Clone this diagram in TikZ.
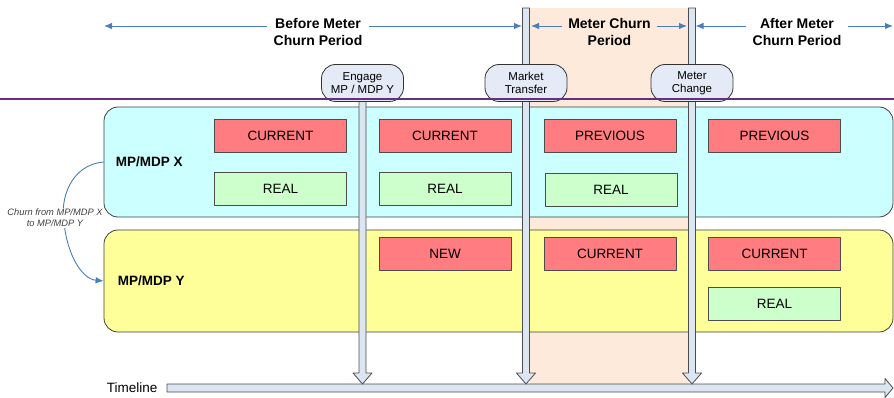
\documentclass[tikz,border=0pt]{standalone}
\usepackage{fontspec}
\setmainfont{Liberation Sans}
\usetikzlibrary{arrows.meta,calc,positioning}

\definecolor{rowcyan}{HTML}{CCFFFF}
\definecolor{rowyellow}{HTML}{FFFF99}
\definecolor{cellred}{HTML}{FF7C80}
\definecolor{cellgreen}{HTML}{CCFFCC}
\definecolor{churnzone}{HTML}{FDEADA}
\definecolor{barblue}{HTML}{DCE6F2}
\definecolor{eventblue}{HTML}{E4EBF6}
\definecolor{spanblue}{HTML}{4A7EBB}
\definecolor{rulepurple}{RGB}{102,48,126}

% hollow block arrow pointing down, #1 top, #2 tip
\newcommand{\eventbar}[2]{%
    \filldraw[barfill]($(#1)+(-3.5,0)$)--($(#2)+(-3.5,-11)$)--($(#2)+(-9.5,-11)$)
                       --(#2)--($(#2)+(9.5,-11)$)--($(#2)+(3.5,-11)$)
                       --($(#1)+(3.5,0)$)--cycle;}

\begin{document}
\begin{tikzpicture}[x=1pt,y=-1pt,join=round]
    \tikzstyle{rowbox} = [draw=black!75,line width=.8pt,rounded corners=14pt,
                          minimum width=789pt,minimum height=110pt]
    \tikzstyle{rowlabel} = [font=\fontsize{13.5}{16}\selectfont\bfseries,inner sep=0pt]
    \tikzstyle{cell} = [draw=black!70,line width=.8pt,minimum width=132pt,
                        minimum height=33pt,inner sep=0pt,font=\fontsize{13.5}{16}\selectfont]
    \tikzstyle{redcell} = [cell,fill=cellred]
    \tikzstyle{greencell} = [cell,fill=cellgreen]
    \tikzstyle{barfill} = [fill=barblue,draw=black!70,line width=.8pt]
    \tikzstyle{event} = [draw=black!80,line width=.8pt,fill=eventblue,rounded corners=14pt,
                         minimum width=82pt,minimum height=37pt,inner sep=1pt,align=center,
                         font=\fontsize{11.5}{13.5}\selectfont]
    \tikzstyle{period} = [align=center,inner xsep=6pt,inner ysep=1pt,
                          font=\fontsize{14}{17}\selectfont\bfseries]
    \tikzstyle{span} = [draw=spanblue,line width=.9pt,-{Latex[length=8pt,width=6.5pt]}]
    \tikzstyle{churn} = [draw=spanblue,line width=.9pt,-{Latex[length=8pt,width=6.5pt]}]
    \tikzstyle{churntext} = [fill=white,inner sep=1pt,align=center,text=black!75,
                             font=\fontsize{9.3}{11}\selectfont\itshape]
    \useasboundingbox (0,0) rectangle (894,398);
    \coordinate (bartop) at (0,8);
    \coordinate (arrowrow) at (0,26);
    \coordinate (farleft) at (104,26);
    \coordinate (farright) at (893,26);
    \coordinate (tltop) at (167,384);
    \coordinate (tlstart) at (167,388);
    \coordinate (tlend) at (893,388);
    \coordinate (engagept) at (362.5,83);
    \coordinate (transferpt) at (526,83);
    \coordinate (changept) at (692,83);
    \fill[churnzone]($(transferpt |- bartop)+(3.5,0)$) rectangle ($(changept |- tltop)+(-3.5,0)$);
    \node[rowbox,fill=rowcyan] (mpx) at (498.5,162) {};
    \node[rowbox,fill=rowyellow,minimum height=102pt] (mpy) at (498.5,281) {};
    \node[rowlabel,right=12pt of mpx.west] (xlabel) {MP/MDP X};
    \node[rowlabel,right=14pt of mpy.west] (ylabel) {MP/MDP Y};
    \node[redcell] (cur1) at (280.5,136) {CURRENT};
    \node[greencell] (real1) at (280.5,189) {REAL};
    \node[redcell] (cur2) at (445,136) {CURRENT};
    \node[greencell] (real2) at (445,189) {REAL};
    \node[redcell] (new2) at (445,253.5) {NEW};
    \node[redcell] (prev3) at (610,136) {PREVIOUS};
    \node[greencell] (real3) at (611,190) {REAL};
    \node[redcell] (cur3) at (610,253.5) {CURRENT};
    \node[redcell] (prev4) at (774.5,136) {PREVIOUS};
    \node[redcell] (cur4) at (774.5,253.5) {CURRENT};
    \node[greencell] (real4) at (774.5,303.5) {REAL};
    \draw[churn](mpx.west) .. controls (70,165) and (60,200) .. (64,222)
                           .. controls (67,255) and (82,279) .. (mpy.west);
    \node[churntext] (churnnote) at (55,218) {Churn from MP/MDP X\\to MP/MDP Y};
    % timeline and the three events
    \filldraw[barfill]($(tlstart)+(0,-4)$)--($(tlend)+(-8,-4)$)--($(tlend)+(-8,-9.5)$)
                      --(tlend)--($(tlend)+(-8,9.5)$)--($(tlend)+(-8,4)$)
                      --($(tlstart)+(0,4)$)--cycle;
    \node[font=\fontsize{13.5}{16}\selectfont,left=6pt of tlstart] (tllabel) {Timeline};
    \eventbar{engagept}{engagept |- tltop}
    \eventbar{transferpt |- bartop}{transferpt |- tltop}
    \eventbar{changept |- bartop}{changept |- tltop}
    \node[event] (engage) at (engagept) {Engage\\MP / MDP Y};
    \node[event] (transfer) at (transferpt) {Market\\Transfer};
    \node[event] (change) at (changept) {Meter\\Change};
    \draw[rulepurple,line width=2pt](0,99)--(894,99);
    % periods
    \node[period] (before) at (318,32) {Before Meter\\Churn Period};
    \node[period] (during) at (609.5,32) {Meter Churn\\Period};
    \node[period] (after) at (797,32) {After Meter\\Churn Period};
    \draw[span](before.west |- arrowrow)--(farleft);
    \draw[span](before.east |- arrowrow)--($(transferpt |- arrowrow)+(-4,0)$);
    \draw[span](during.west |- arrowrow)--($(transferpt |- arrowrow)+(5,0)$);
    \draw[span](during.east |- arrowrow)--($(changept |- arrowrow)+(-5,0)$);
    \draw[span](after.west |- arrowrow)--($(changept |- arrowrow)+(3.5,0)$);
    \draw[span](after.east |- arrowrow)--(farright);
\end{tikzpicture}
\end{document}
